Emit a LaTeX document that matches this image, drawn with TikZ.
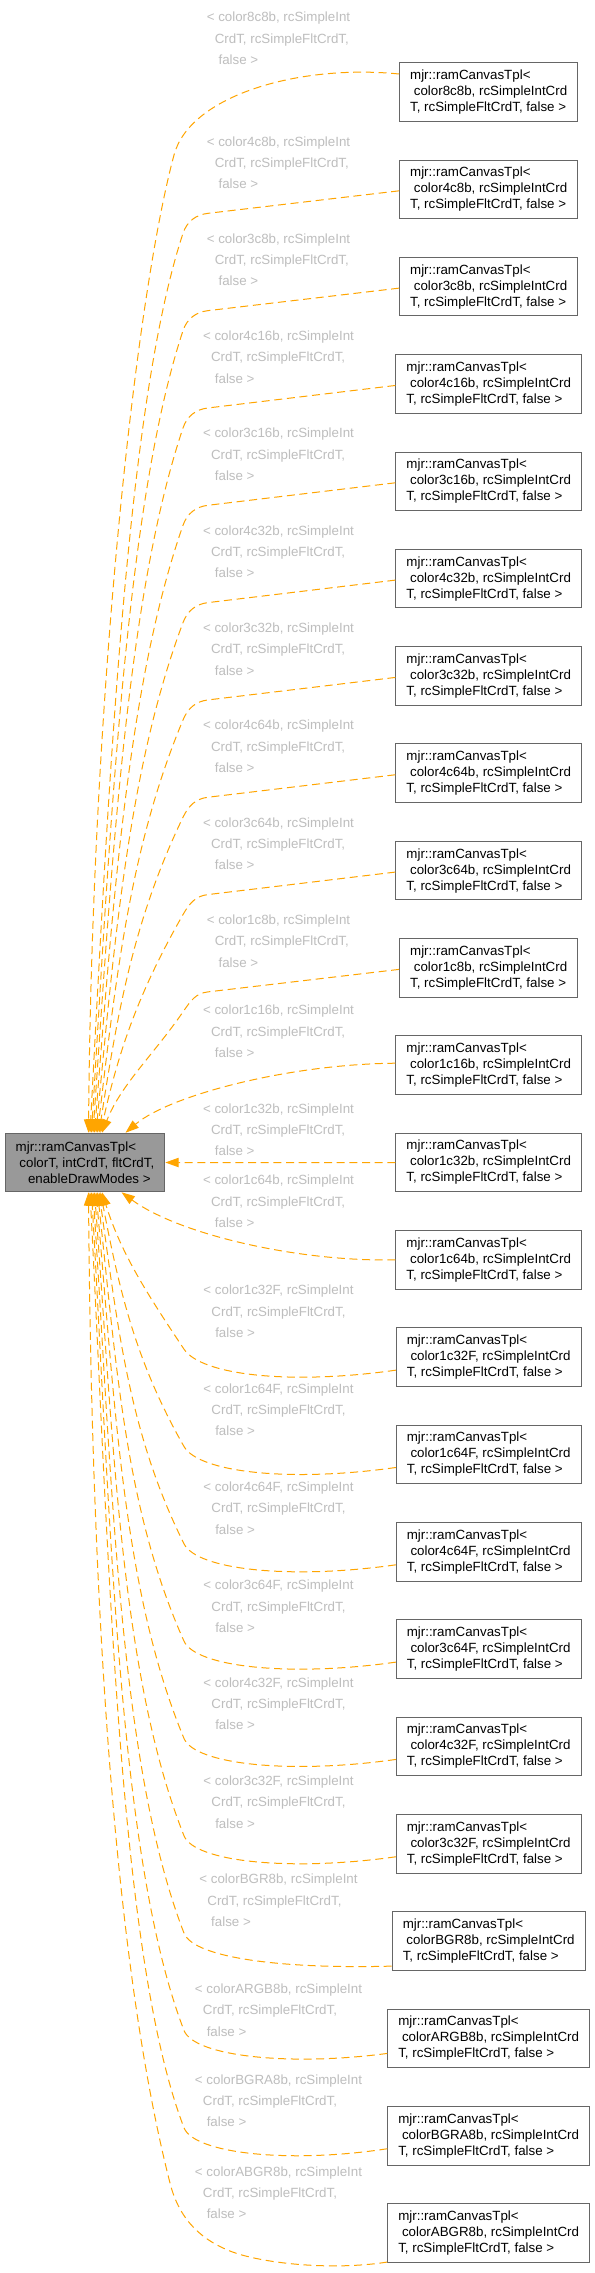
\documentclass[tikz,border=0pt]{standalone}
\usepackage{fontspec}
\setmainfont{Liberation Sans}
\usetikzlibrary{arrows.meta}
\definecolor{edgeor}{HTML}{FFA500}
\definecolor{lblgray}{HTML}{BEBEBE}
\definecolor{boxline}{HTML}{666666}
\definecolor{basefill}{HTML}{999999}
\begin{document}
\begin{tikzpicture}[x=0.75pt,y=-0.75pt,
  every node/.style={font=\fontsize{10pt}{12pt}\selectfont},
  cls/.style={draw=boxline, line width=0.75pt, fill=white, align=left, inner xsep=7.9pt, inner ysep=0pt, minimum height=43.9pt, anchor=center},
  basecls/.style={cls, fill=basefill, draw=boxline},
  lbl/.style={text=lblgray, inner sep=0pt, anchor=base},
  lblx/.style={text=lblgray, inner sep=0pt, anchor=base west},
  inh/.style={draw=edgeor, line width=0.75pt, dash pattern=on 6pt off 3.5pt, -{Triangle[length=10pt,width=7pt]}},
]
\fill[white] (0,0) rectangle (594,2273);
\useasboundingbox (0,0) rectangle (594,2273);

% base template node
\node[basecls, anchor=west] (tpl) at (4.7,1162.5) {mjr::ramCanvasTpl<\\\hspace*{2.78pt}colorT, intCrdT, fltCrdT,\\\hspace*{9.2pt}enableDrawModes >};

% instance nodes and labels
\foreach \i/\nm/\ldy in {0/8c8b/-74.7, 1/4c8b/-48, 2/3c8b/-48, 3/4c16b/-48, 4/3c16b/-48, 5/4c32b/-48, 6/3c32b/-48, 7/4c64b/-48, 8/3c64b/-48, 9/1c8b/-48, 10/1c16b/-55.2, 11/1c32b/-54.2, 12/1c64b/-79.6, 13/1c32F/-67, 14/1c64F/-66, 15/4c64F/-65, 16/3c64F/-64, 17/4c32F/-64, 18/3c32F/-63, 19/BGR8b/-62, 20/ARGB8b/-49.7, 21/BGRA8b/-56.2, 22/ABGR8b/-61.5}{
  \pgfmathsetmacro\yy{92+97.32*\i}
  \pgfmathsetmacro\ly{\yy+\ldy+4.7}
  \node[cls] (b\i) at (488.7,\yy) {mjr::ramCanvasTpl<\\\hspace*{2.78pt}color\nm, rcSimpleIntCrd\\T, rcSimpleFltCrdT, false >};
  \node[lbl] (l\i) at (278.5,\ly) {< color\nm, rcSimpleInt};
  \node[lblx] (m\i) at ([shift={(8,21.3)}]l\i.base west) {CrdT, rcSimpleFltCrdT,};
  \node[lblx] (n\i) at ([shift={(11.8,42.6)}]l\i.base west) {false >};
}

% edge 0 (outermost, top)
\draw[inh] ([shift={(0,-18)}]b0.west) .. controls (300,64) and (190,95) .. (174,155) .. controls (135,300) and (92,700) .. ([shift={(83.8,0)}]tpl.north west);

% top edges 1..9
\foreach \i in {1,...,9}{
  \pgfmathsetmacro\yy{92+97.32*\i}
  \pgfmathsetmacro\ya{\yy+24}
  \pgfmathsetmacro\yb{\yy+25.4}
  \pgfmathsetmacro\yq{\yy+44}
  \pgfmathsetmacro\spn{1131-\yq}
  \pgfmathsetmacro\fa{1-\spn/900}
  \pgfmathsetmacro\slp{0.33+0.55*\fa^3}
  \pgfmathsetmacro\yc{\yq-12}
  \pgfmathsetmacro\xc{183+12*\slp}
  \pgfmathsetmacro\Lone{\spn*(0.19+0.2*\fa)}
  \pgfmathsetmacro\cax{183-\slp*\Lone}
  \pgfmathsetmacro\cay{\yq+\Lone}
  \pgfmathsetmacro\xt{88+1.5*\i}
  \pgfmathsetmacro\cbx{\xt+19.5}
  \pgfmathsetmacro\cby{1131-0.39*\spn}
  \pgfmathsetmacro\dxt{\xt-4.2}
  \draw[inh] ([shift={(0,1.5)}]b\i.west) -- (208,\ya) .. controls (196,\yb) and (\xc,\yc) .. (183,\yq) .. controls (\cax,\cay) and (\cbx,\cby) .. ([shift={(\dxt,0)}]tpl.north west);
}

% edges 10, 11, 12
\draw[inh] ([shift={(0,-2)}]b10.west) .. controls (290,1064) and (170,1095) .. ([shift={(120.8,0)}]tpl.north west);
\draw[inh] (b11.west) -- (tpl.east);
\draw[inh] (b12.west) .. controls (300,1262) and (180,1235) .. ([shift={(116.8,0)}]tpl.south west);

% bottom edges 13..21
\foreach \j/\so in {13/13, 14/13, 15/13, 16/13, 17/13, 18/13, 19/25, 20/15, 21/13}{
  \pgfmathsetmacro\yy{92+97.32*\j}
  \pgfmathsetmacro\ya{\yy+28}
  \pgfmathsetmacro\yq{\yy-8}
  \pgfmathsetmacro\spn{\yq-1192}
  \pgfmathsetmacro\fa{1-\spn/900}
  \pgfmathsetmacro\slp{0.385+0.5*\fa^3}
  \pgfmathsetmacro\xc{184+26*\slp}
  \pgfmathsetmacro\yc{\yq+26}
  \pgfmathsetmacro\Lone{\spn*(0.19+0.2*\fa)}
  \pgfmathsetmacro\cax{184-\slp*\Lone}
  \pgfmathsetmacro\cay{\yq-\Lone}
  \pgfmathsetmacro\xt{88+1.5*(22-\j)}
  \pgfmathsetmacro\cbx{\xt+19.5}
  \pgfmathsetmacro\cby{1192+0.39*\spn}
  \pgfmathsetmacro\dxt{\xt-4.2}
  \draw[inh] ([shift={(0,\so)}]b\j.west) .. controls (290,\ya) and (\xc,\yc) .. (184,\yq) .. controls (\cax,\cay) and (\cbx,\cby) .. ([shift={(\dxt,0)}]tpl.south west);
}

% edge 22 (outermost, bottom)
\draw[inh] ([shift={(0,29)}]b22.west) .. controls (330,2271) and (260,2263) .. (230,2251) .. controls (205,2241) and (180,2223) .. (170,2183) .. controls (119,1983) and (92,1650) .. ([shift={(83.8,0)}]tpl.south west);
\end{tikzpicture}
\end{document}
